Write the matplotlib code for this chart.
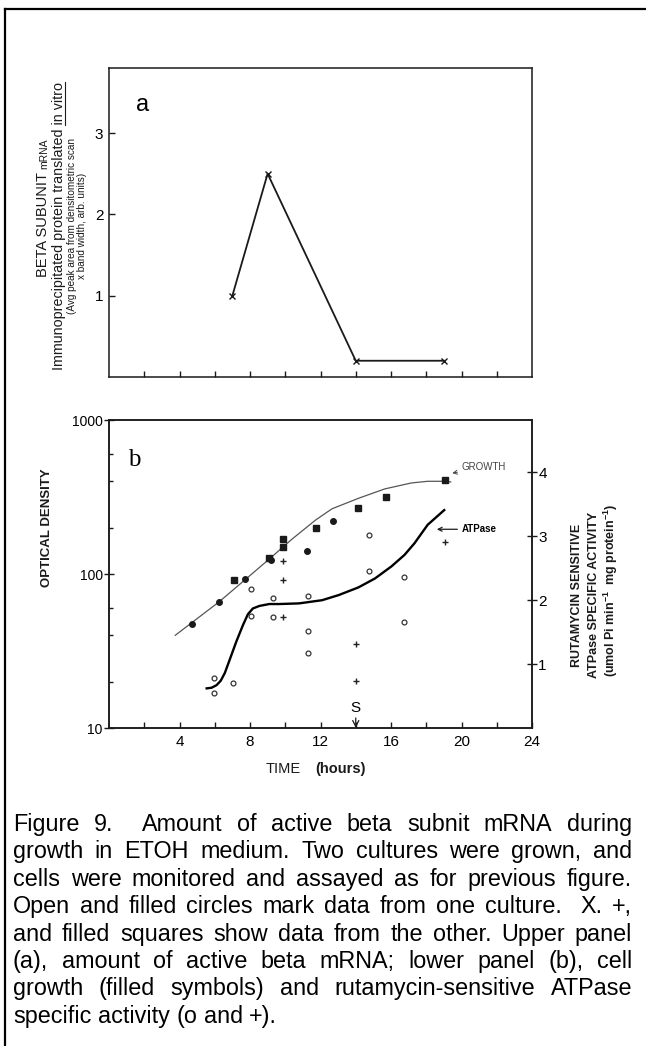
import matplotlib
matplotlib.use("Agg")
import matplotlib.pyplot as plt
from matplotlib.lines import Line2D

W, H = 646, 1046
INK = "#1a1a1a"

# ---- panel a: active beta subunit mRNA (x marks) ----
mrna_time = [7, 9, 14, 19]
mrna_level = [1.0, 2.5, 0.2, 0.2]

# ---- panel b: growth (left, log axis) ----
growth_circ_time = [4.7, 6.25, 7.7, 9.2, 11.25, 12.7]
growth_circ_od = [47, 66, 93, 123, 141, 220]
growth_sq_time = [7.1, 9.1, 9.9, 9.9, 11.75, 14.1, 15.7, 19.05]
growth_sq_od = [91, 127, 168, 149, 198, 267, 318, 408]

# hand drawn growth curve
growth_curve_time = [3.76, 6.25, 7.78, 9.09, 10.4, 11.72, 12.65, 14.15, 15.65, 17.15, 18.08, 19.02, 19.39]
growth_curve_od = [40, 66, 93, 125, 169, 224, 265, 310, 357, 390, 400, 400, 396]

# ---- panel b: rutamycin sensitive ATPase (right axis) ----
atp_open_time = [5.97, 5.97, 7.03, 8.06, 8.03, 9.3, 9.3, 11.27, 11.27, 11.27, 14.77, 14.77, 16.73, 16.73]
atp_open_val = [0.79, 0.54, 0.71, 2.17, 1.75, 2.04, 1.73, 2.06, 1.52, 1.18, 3.02, 2.46, 2.36, 1.66]
atp_plus_time = [9.9, 9.9, 9.9, 14.02, 14.02, 19.06]
atp_plus_val = [2.62, 2.32, 1.73, 1.32, 0.73, 2.91]

atp_curve_time = [5.54, 5.82, 6.1, 6.34, 6.57, 6.85, 7.22, 7.6, 7.88, 8.16, 8.53, 9.09, 9.66,
                  10.78, 12.09, 13.03, 14.15, 15.09, 16.03, 16.77, 17.33, 18.08, 19.02]
atp_curve_val = [0.62, 0.63, 0.67, 0.74, 0.86, 1.07, 1.35, 1.61, 1.78, 1.87, 1.91, 1.94, 1.94,
                 1.95, 2.0, 2.08, 2.2, 2.34, 2.53, 2.71, 2.89, 3.18, 3.41]

caption_lines = [
    "Figure 9.  Amount of active beta subnit mRNA during",
    "growth in ETOH medium. Two cultures were grown, and",
    "cells were monitored and assayed as for previous figure.",
    "Open and filled circles mark data from one culture.  X. +,",
    "and filled squares show data from the other. Upper panel",
    "(a), amount of active beta mRNA; lower panel (b), cell",
    "growth (filled symbols) and rutamycin-sensitive ATPase",
    "specific activity (o and +).",
]

SANS = "Liberation Sans"
plt.rcParams["font.family"] = [SANS, "DejaVu Sans"]
plt.rcParams["mathtext.fontset"] = "custom"
plt.rcParams["mathtext.rm"] = SANS
plt.rcParams["mathtext.it"] = SANS + ":italic"
plt.rcParams["mathtext.bf"] = SANS + ":bold"

fig = plt.figure(figsize=(W / 100, H / 100), dpi=100)
renderer = fig.canvas.get_renderer()


def px_axes(l, t, r, b):
    return fig.add_axes([l / W, 1 - b / H, (r - l) / W, (b - t) / H])


def fx(x):
    return x / W


def fy(y):
    return 1 - y / H


def text_w(s, **kw):
    t = fig.text(0, 0, s, **kw)
    w = t.get_window_extent(renderer).width
    t.remove()
    return w


# outer frame (top and left edges only)
fig.add_artist(Line2D([fx(5), 1], [fy(9), fy(9)], color="black", lw=1.6))
fig.add_artist(Line2D([fx(5), fx(5)], [fy(9), 0], color="black", lw=1.6))

# ================= panel a =================
ax_a = px_axes(109, 68, 532, 377)
ax_a.plot(mrna_time, mrna_level, color=INK, lw=1.3, marker="x", ms=4, mew=1.0)
ax_a.set_xlim(0, 24)
ax_a.set_ylim(0, 3.8)
ax_a.set_xticks(range(2, 24, 2))
ax_a.set_xticklabels([])
ax_a.set_xticks([14], minor=True)
ax_a.set_xticklabels(["S"], minor=True)
ax_a.tick_params(axis="x", which="major", direction="in", length=4, width=1, color=INK)
ax_a.tick_params(axis="x", which="minor", direction="out", length=5, width=1, color=INK,
                 labelsize=11, pad=3)
ax_a.set_yticks([1, 2, 3])
ax_a.tick_params(axis="y", direction="in", length=4, width=1, color=INK, labelsize=11, pad=4)
for s in ax_a.spines.values():
    s.set_color(INK)
    s.set_linewidth(1.1)
ax_a.text(1.9, 3.35, "a", fontsize=17, va="center", ha="center", color="black")

# y label of panel a: "BETA SUBUNIT" with a smaller "mRNA" on the same baseline
beta_size, mrna_size = 10.5, 7.5
w_beta = text_w("BETA SUBUNIT", fontsize=beta_size)
w_mrna = text_w("mRNA", fontsize=mrna_size)
gap = 3
total = w_beta + gap + w_mrna
beta_bottom = 208 + total / 2
base_x = 47
fig.text(fx(base_x), fy(beta_bottom), "BETA SUBUNIT", rotation=90, rotation_mode="anchor",
         ha="left", va="baseline", fontsize=beta_size, color=INK)
fig.text(fx(base_x), fy(beta_bottom - w_beta - gap), "mRNA", rotation=90,
         rotation_mode="anchor", ha="left", va="baseline", fontsize=mrna_size, color=INK)

lab_y = 226
immuno = "Immunoprecipitated protein translated in vitro"
imm_size = 10.3
fig.text(fx(59), fy(lab_y), immuno, rotation=90, ha="center", va="center",
         fontsize=imm_size, color=INK)
# underline "in vitro" (rotated text: underline sits on the right)
full_w = text_w(immuno, fontsize=imm_size)
pre_w = text_w("Immunoprecipitated protein translated ", fontsize=imm_size)
y_start = lab_y + full_w / 2
fig.add_artist(Line2D([fx(64.5), fx(64.5)], [fy(y_start - pre_w), fy(lab_y - full_w / 2)],
                      color=INK, lw=0.8))
fig.text(fx(72), fy(lab_y), "(Avg peak area from densitometric scan", rotation=90,
         ha="center", va="center", fontsize=7.2, color=INK)
fig.text(fx(81.5), fy(lab_y), "x band width, arb. units)", rotation=90,
         ha="center", va="center", fontsize=7.2, color=INK)

# ================= panel b =================
ax_b = px_axes(109, 420, 532, 728)
ax_b.set_yscale("log")
ax_b.plot(growth_curve_time, growth_curve_od, color="#555555", lw=0.9)
ax_b.plot(growth_circ_time, growth_circ_od, "o", color=INK, ms=4)
ax_b.plot(growth_sq_time, growth_sq_od, "s", color=INK, ms=4)
ax_b.set_xlim(0, 24)
ax_b.set_ylim(10, 1000)
ax_b.set_xticks(range(4, 25, 4))
ax_b.set_xticks(range(2, 24, 4), minor=True)
ax_b.tick_params(axis="x", which="both", direction="in", length=4, width=1, color=INK,
                 labelsize=11, pad=5)
ax_b.set_yticks([10, 100, 1000])
ax_b.set_yticklabels(["10", "100", "1000"])
ax_b.set_yticks([20, 40, 60, 200, 400, 600], minor=True)
ax_b.set_yticklabels([], minor=True)
ax_b.tick_params(axis="y", which="major", direction="inout", length=7, width=1, color=INK,
                 labelsize=10, pad=1)
ax_b.tick_params(axis="y", which="minor", direction="in", length=3, width=1, color=INK)
ax_b.text(1.45, 550, "b", family="Liberation Serif", fontsize=18, va="center", ha="center")

ax_r = ax_b.twinx()
ax_r.plot(atp_curve_time, atp_curve_val, color="black", lw=1.7)
ax_r.plot(atp_open_time, atp_open_val, "o", ms=3.5, mfc="white", mec="#333333", mew=0.9)
ax_r.plot(atp_plus_time, atp_plus_val, "+", ms=4, color="#222222", mew=1.0)
ax_r.set_ylim(0, 4.82)
ax_r.set_yticks([1, 2, 3, 4])
ax_r.tick_params(axis="y", direction="inout", length=7, width=1, color=INK, labelsize=11, pad=1)
for ax in (ax_b, ax_r):
    for s in ax.spines.values():
        s.set_color(INK)
        s.set_linewidth(1.1)

ax_b.annotate("GROWTH", xy=(19.4, 450), xytext=(20.0, 493), fontsize=7, color="#444444",
              va="center", ha="left",
              arrowprops=dict(arrowstyle="->", lw=0.7, color="#444444", shrinkA=1, shrinkB=1))
ax_r.annotate("ATPase", xy=(18.6, 3.11), xytext=(20.0, 3.11), fontsize=7, fontweight="bold",
              va="center", ha="left",
              arrowprops=dict(arrowstyle="->", lw=0.9, color=INK, shrinkA=1, shrinkB=0))
ax_r.annotate("S", xy=(14, 0), xytext=(14, 0.2), fontsize=11, va="bottom", ha="center",
              arrowprops=dict(arrowstyle="->", lw=0.9, color=INK, shrinkA=0, shrinkB=0))

fig.text(fx(47), fy(528), "OPTICAL DENSITY", rotation=90, ha="center", va="center",
         fontsize=9.5, fontweight="bold", color=INK)
fig.text(fx(577), fy(595), "RUTAMYCIN SENSITIVE", rotation=90, ha="center", va="center",
         fontsize=9, fontweight="bold", color=INK)
fig.text(fx(594), fy(595), "ATPase SPECIFIC ACTIVITY", rotation=90, ha="center", va="center",
         fontsize=9, fontweight="bold", color=INK)
fig.text(fx(611), fy(590), r"(umol Pi min$^{\mathbf{-1}}$  mg protein$^{\mathbf{-1}}$)",
         rotation=90, ha="center", va="center", fontsize=9, fontweight="bold", color=INK)

fig.text(fx(283), fy(769), "TIME", ha="center", va="center", fontsize=10.5, color=INK)
fig.text(fx(341), fy(769), "(hours)", ha="center", va="center", fontsize=10.5,
         fontweight="bold", color=INK)

# ================= caption (justified) =================
cap_left, cap_right = 13, 632
cap_base, cap_step = 831, 27.4
cap_kw = dict(fontsize=16.8, family=SANS)

space_w = text_w("a a", **cap_kw) - text_w("aa", **cap_kw)
for i, line in enumerate(caption_lines):
    toks, gaps, pending = [], [], 0
    for w in line.split(" "):
        if w == "":
            pending += 1
            continue
        if toks:
            gaps.append(1 + pending)
        toks.append(w)
        pending = 0
    widths = [text_w(t, **cap_kw) for t in toks]
    if i < len(caption_lines) - 1:
        unit = (cap_right - cap_left - sum(widths)) / sum(gaps)
    else:
        unit = space_w
    x = cap_left
    y = cap_base + i * cap_step
    for k, (tok, w) in enumerate(zip(toks, widths)):
        fig.text(fx(x), fy(y), tok, va="baseline", ha="left", color="black", **cap_kw)
        x += w
        if k < len(gaps):
            x += gaps[k] * unit

fig.savefig("out.png", dpi=100)
